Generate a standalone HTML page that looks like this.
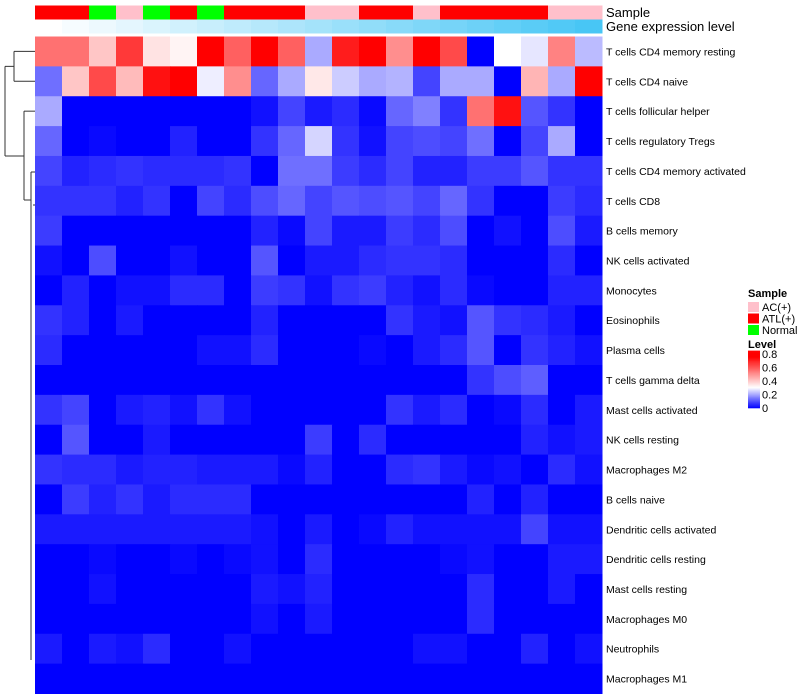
<!DOCTYPE html>
<html><head><meta charset="utf-8"><style>
body{margin:0;background:#fff;}
svg{display:block;font-family:"Liberation Sans",sans-serif;}
</style></head><body>
<svg id="chart" width="800" height="700"></svg>
<script>
const rowLabels=["T cells CD4 memory resting","T cells CD4 naive","T cells follicular helper","T cells regulatory  Tregs","T cells CD4 memory activated","T cells CD8","B cells memory","NK cells activated","Monocytes","Eosinophils","Plasma cells","T cells gamma delta","Mast cells activated","NK cells resting","Macrophages M2","B cells naive","Dendritic cells activated","Dendritic cells resting","Mast cells resting","Macrophages M0","Neutrophils","Macrophages M1"];
const sampleGroups=["ATL(+)","ATL(+)","Normal","AC(+)","Normal","ATL(+)","Normal","ATL(+)","ATL(+)","ATL(+)","AC(+)","AC(+)","ATL(+)","ATL(+)","AC(+)","ATL(+)","ATL(+)","ATL(+)","ATL(+)","AC(+)","AC(+)"];
const geneLevel=[0,1,2,3,4,5,6,7,8,9,10,11,12,13,14,15,16,17,18,19,20];
const legendTicks=[0,0.2,0.4,0.6,0.8];
const values=[
[.55,.55,.4,.65,.35,.32,.8,.58,.8,.58,.2,.7,.8,.5,.8,.62,0,.3,.27,.52,.22],
[.13,.4,.62,.42,.72,.8,.28,.5,.12,.2,.34,.24,.2,.21,.08,.2,.2,0,.43,.2,.8],
[.2,0,0,0,0,0,0,0,.02,.08,.03,.05,.01,.12,.15,.06,.55,.72,.1,.06,0],
[.12,0,.01,0,0,.04,0,0,.06,.12,.25,.06,.02,.08,.09,.08,.13,0,.08,.2,0],
[.08,.04,.05,.06,.05,.05,.05,.06,0,.13,.13,.07,.05,.08,.04,.04,.07,.07,.1,.06,.06],
[.06,.06,.06,.04,.06,0,.08,.05,.09,.12,.08,.1,.09,.1,.08,.12,.06,0,0,.07,.05],
[.07,0,0,0,0,0,0,0,.04,.01,.08,.03,.03,.07,.05,.09,0,.02,0,.09,.03],
[.02,0,.09,0,0,.02,0,0,.1,0,.03,.03,.05,.06,.06,.05,0,0,0,.05,0],
[0,.04,0,.02,.02,.05,.05,0,.07,.06,.02,.06,.07,.04,.02,.05,.01,0,0,.04,.04],
[.06,.04,0,.03,0,0,0,0,.04,0,0,0,0,.06,.03,.02,.1,.06,.05,.03,0],
[.05,0,0,0,0,0,.02,.02,.05,0,0,0,.01,0,.03,.05,.1,0,.06,.04,.02],
[0,0,0,0,0,0,0,0,0,0,0,0,0,0,0,0,.06,.09,.11,0,0],
[.06,.08,0,.03,.04,.02,.06,.02,0,0,0,0,0,.06,.03,.05,0,.01,.05,0,.03],
[0,.1,0,0,.03,0,0,0,0,0,.07,0,.05,0,0,0,0,0,.04,.02,.03],
[.06,.05,.05,.03,.04,.04,.03,.03,.03,.01,.04,0,0,.05,.06,.03,.01,.02,0,.05,.02],
[0,.07,.04,.06,.03,.05,.05,.05,0,0,0,0,0,0,0,0,.04,0,.04,0,0],
[.03,.03,.03,.03,.03,.03,.03,.03,.02,0,.03,0,.01,.04,.02,.02,.02,.02,.08,.02,.02],
[0,0,.01,0,0,.01,0,.01,.02,0,.05,0,0,0,0,.01,.02,0,0,.03,.03],
[0,0,.02,0,0,0,0,0,.03,.02,.04,0,0,0,0,0,.05,0,0,.03,0],
[0,0,0,0,0,0,0,0,.02,0,.03,0,0,0,0,0,.05,0,0,0,0],
[.03,0,.03,.02,.05,0,0,.02,0,0,0,0,0,0,.02,.02,0,0,.04,0,.02],
[0,0,0,0,0,0,0,0,0,0,0,0,0,0,0,0,0,0,0,0,0]
];
const groupColors={"AC(+)":"#ffc0cb","ATL(+)":"#ff0000","Normal":"#00ff00"};
const NS="http://www.w3.org/2000/svg";
const svg=document.getElementById('chart');
const X0=35,X1=602,Y0=36.5,Y1=693.5;
const nC=values[0].length,nR=values.length;
const cw=(X1-X0)/nC,rh=(Y1-Y0)/nR;
const xPos=c=>X0+c*cw, yPos=r=>Y0+r*rh;
function color(v){
  let r,g,b;
  if(v<=0.3){const t=Math.max(0,v)/0.3;r=255*t;g=255*t;b=255;}
  else{const t=Math.min(1,(v-0.3)/0.45);r=255;g=255*(1-t);b=255*(1-t);}
  return `rgb(${Math.round(r)},${Math.round(g)},${Math.round(b)})`;
}
function el(tag,attrs){const e=document.createElementNS(NS,tag);for(const k in attrs)e.setAttribute(k,attrs[k]);svg.appendChild(e);return e;}
sampleGroups.forEach((g,c)=>{
  const e=el('rect',{x:xPos(c),y:5.5,width:cw+0.5,height:14,fill:groupColors[g]});
  
  
});
const gmax=Math.max(...geneLevel);
geneLevel.forEach((v,c)=>{
  const t=v/gmax;
  const col=`rgb(${Math.round(255-(255-72)*t)},${Math.round(255-(255-198)*t)},${Math.round(255-(255-245)*t)})`;
  const e=el('rect',{x:xPos(c),y:19.5,width:cw+0.5,height:14,fill:col});
  
  
});
let t=el('text',{x:606,y:17,'font-size':13,fill:'#000'});t.textContent='Sample';


t=el('text',{x:606,y:31,'font-size':13,fill:'#000'});t.textContent='Gene expression level';


values.forEach((row,r)=>row.forEach((v,c)=>{
  const e=el('rect',{x:xPos(c),y:yPos(r),width:cw+0.5,height:rh+0.5,fill:color(v)});
  
  
}));
rowLabels.forEach((l,r)=>{
  const e=el('text',{x:606,y:yPos(r)+rh/2+4,'font-size':10.5,fill:'#000'});
  e.textContent=l;
  
  
});
const cy=r=>yPos(r)+rh/2;
const dl=[
 [14,cy(0),35,cy(0)],[14,cy(1),35,cy(1)],[14,cy(0),14,cy(1)],
 [24,cy(2),35,cy(2)],[24,cy(2),24,cy(3)+20],
 [5,(cy(0)+cy(1))/2,14,(cy(0)+cy(1))/2],[5,(cy(0)+cy(1))/2,5,156],[5,156,24,156],
 [24,cy(3)+20,24,200],[24,200,31,200],[31,172,31,660],[31,172,35,172],[33,205,35,205]
];
dl.forEach(d=>{
  const e=el('line',{x1:d[0],y1:d[1],x2:d[2],y2:d[3],stroke:'#333','stroke-width':1});
  
  
});
t=el('text',{x:748,y:297,'font-size':11,'font-weight':'bold'});t.textContent='Sample';


["AC(+)","ATL(+)","Normal"].forEach((g,i)=>{
  const r=el('rect',{x:748,y:302+i*11.5,width:11,height:10,fill:groupColors[g]});
  
  
  const tx=el('text',{x:762,y:311+i*11.5,'font-size':11});tx.textContent=g;
  
  
});
t=el('text',{x:748,y:348,'font-size':11,'font-weight':'bold'});t.textContent='Level';


const ly=v=>408-v*67.5;
for(let i=0;i<60;i++){
  const v=0.85*i/60;
  const r=el('rect',{x:748,y:ly(v+0.85/60),width:12,height:0.85/60*67.5+0.3,fill:color(v)});
  
  
}
legendTicks.forEach(v=>{
  const tx=el('text',{x:762,y:ly(v)+4,'font-size':11});tx.textContent=v===0?'0':String(v);
  
  
});
</script>
</body></html>
